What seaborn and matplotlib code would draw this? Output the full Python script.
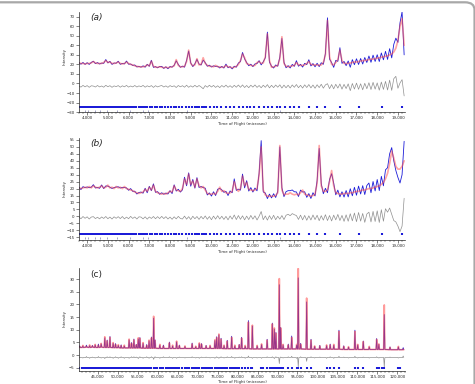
import numpy as np
import pandas as pd
import seaborn as sns
import matplotlib
matplotlib.use("Agg")
import matplotlib.pyplot as plt
from matplotlib.patches import FancyBboxPatch
from matplotlib.ticker import MultipleLocator, StrMethodFormatter

# ---- panels (a) and (b): 100 microsec grid ----
tof_ab = np.arange(3600, 19301, 100)

a_calc = [
    21.5, 21, 21, 20.5, 21, 21, 21.5, 23, 21.5, 21,
    21, 21, 22, 24, 22, 22.5, 21, 21, 21.5, 22.5,
    21, 20.5, 21, 22.5, 21, 20, 19.5, 18.5, 18, 17.5,
    17.5, 17.5, 18, 19.5, 18.5, 23.5, 18, 17, 17, 17.5,
    17, 16.5, 17, 16.5, 17, 17.5, 18.5, 25, 19, 17.5,
    17.5, 18, 23, 35, 21, 18.5, 19.5, 26, 19.5, 20,
    27, 21, 19, 18, 18, 17.5, 19, 17.5, 17.5, 17,
    17, 19, 17.5, 17, 16.5, 17, 18, 20, 24, 31,
    27, 21, 20, 19, 18.5, 19, 22, 23, 21, 21.5,
    28, 52, 24, 17, 17.5, 18, 19, 26, 49, 21,
    18, 17.5, 18, 18.5, 19, 22, 19.5, 19, 19, 19.5,
    21, 23, 20, 19.5, 19.5, 19.5, 19, 19.5, 22, 30,
    66, 28, 20, 19.5, 22, 25, 35, 24, 21, 21,
    21, 21.5, 22, 22.5, 22.5, 23, 23.5, 24, 24, 24.5,
    25, 25.5, 25.5, 26, 26.5, 27, 27.5, 28, 28.5, 29,
    30, 31, 33, 37, 45, 60, 68, 40,
]
a_resid = [
    0.5, -0.8, 1.0, -0.5, 0.8, -1.0, 0.6, 0.3, -0.7, 0.9,
    -0.6, 0.4, -0.9, 1.1, -0.4, 0.7, -1.0, 0.5, -0.3, 0.8,
    -0.9, 0.6, -0.5, 1.0, -0.8, 0.4, -0.6, 0.9, -0.7, 0.5,
    -0.4, 1.0, -0.9, 0.6, -0.5, 0.8, -1.1, 0.7, -0.6, 0.3,
    0.9, -0.7, 0.5, -1.0, 0.8, -0.4, 0.6, -1.2, 0.9, -0.5,
    0.7, -0.9, 1.2, -1.0, 0.6, -0.8, 1.1, -0.7, 0.9, -0.6,
    -2.5, 0.8, -0.9, 1.2, -0.7, 1.0, -1.1, 0.6, -1.3, 0.9,
    -0.8, 1.3, -1.0, 0.7, -1.2, 1.1, -0.9, 1.4, -1.0, 1.5,
    -1.2, 0.9, -1.4, 1.2, -0.8, 1.5, -1.1, 0.9, -1.5, 1.2,
    -1.0, 1.8, -1.6, 1.1, -1.3, 1.4, -0.9, 1.6, -1.8, 1.3,
    -1.5, 1.2, -1.7, 1.5, -1.0, 1.9, -1.4, 1.1, -1.8, 1.6,
    -1.2, 1.9, -1.6, 1.4, -2.0, 1.7, -1.3, 2.2, -1.9, 1.5,
    2.8, -2.4, 1.9, -2.6, 2.2, -1.8, 2.5, -2.9, 2.1, -2.3,
    2.6, -4.5, 3.0, -2.8, 3.4, -3.1, 2.7, -3.6, 3.2, -2.5,
    3.8, -3.3, 4.2, -2.9, 3.6, -4.0, 4.5, -3.2, 5.2, -3.8,
    6.5, -4.2, 8.0, 10.5, -2.0, 3.5, 7.0, -10.0,
]

b_calc = [
    20.5, 20, 20.5, 21, 20.5, 21.5, 20.5, 22, 21, 20.5,
    21, 22, 20.5, 21, 22.5, 20.5, 21, 20, 21.5, 20.5,
    21, 20, 21.5, 20, 19.5, 19, 18.5, 17.5, 17, 16.5,
    17, 17.5, 19.5, 18, 21, 19, 22.5, 18, 17, 16.5,
    16, 16.5, 16, 17, 18, 17.5, 22, 19, 18.5, 18,
    20, 27, 23, 30.5, 23, 25.5, 21, 27, 22, 20.5,
    21.5, 19, 16.5, 16, 16, 16.5, 16, 18, 21, 18,
    18.5, 17, 16.5, 17, 18, 25, 20, 18, 20, 29,
    22, 24.5, 19.5, 19, 18.5, 19, 20, 30, 50, 19,
    15.5, 14.5, 14.5, 14.5, 14.5, 15, 17, 51, 19, 15.5,
    16, 16, 17, 16, 15.5, 16, 15.5, 17, 19, 16,
    15.5, 15, 14.5, 15, 16, 24, 51, 22, 18, 18,
    19, 25, 33, 22, 17, 16.5, 16, 16, 16.5, 16.5,
    16.5, 17, 17, 17.5, 18, 18, 18.5, 19, 19, 19.5,
    20, 20, 20.5, 21, 21.5, 22, 23, 24.5, 27, 31,
    38, 47, 42, 36, 34, 34, 36, 40,
]
b_resid = [
    0.6, -0.7, 0.9, -0.4, 0.7, -0.9, 0.5, 0.8, -0.6, 0.4,
    -0.8, 0.6, -0.5, 0.9, -0.7, 0.5, -0.9, 0.7, -0.4, 0.8,
    -0.6, 0.9, -0.8, 0.5, -0.7, 1.0, -0.5, 0.6, -0.9, 0.7,
    0.5, -0.8, 0.7, -1.0, 0.6, -0.5, 0.9, -0.7, 0.8, -0.6,
    1.0, -0.6, 0.8, -0.9, 0.5, -1.1, 0.7, -0.8, 1.0, -0.5,
    -0.9, 1.2, -1.0, 0.8, -1.3, 1.1, -0.7, 0.9, -1.2, 1.0,
    -0.8, 1.3, -1.1, 0.9, -1.4, 1.2, -1.0, 1.5, -0.9, 1.1,
    -1.2, 1.0, -1.5, 1.3, -1.0, 2.0, -1.3, 1.6, -1.1, 1.4,
    -1.5, 1.2, -1.3, 1.7, -1.0, 1.4, -1.6, 1.1, 4.5, -1.4,
    1.3, -1.7, 1.5, -1.2, 1.8, -1.4, 1.1, -1.0, 1.6, -1.3,
    1.8, 2.5, 1.5, 3.0, 2.2, 1.6, -1.2, 1.9, -1.5, 1.7,
    -1.8, 1.4, -1.6, 2.0, -1.3, 1.8, -2.1, 1.5, -1.7, 2.2,
    -2.0, 1.6, -2.3, 1.9, -1.5, 2.4, -2.0, 1.7, -2.6, 2.1,
    -2.5, 2.9, -2.2, 3.4, -2.8, 3.8, -2.4, 3.1, -3.3, 2.7,
    4.0, -3.0, 4.6, -2.7, 5.0, -3.4, 5.8, -2.5, 6.5, 4.0,
    7.0, 2.5, -2.0, -3.0, -6.0, -10.0, -6.0, 14.0,
]

# reflection markers shared by (a) and (b)
ab_reflections = [
    3650, 3720, 3800, 3870, 3950, 4030, 4100, 4180, 4260, 4330,
    4420, 4500, 4580, 4650, 4740, 4820, 4900, 4990, 5070, 5150,
    5240, 5330, 5420, 5500, 5600, 5690, 5780, 5880, 5970, 6070,
    6170, 6270, 6370, 6480, 6580, 6690, 6800, 6910, 7030, 7140,
    7260, 7380, 7500, 7630, 7760, 7890, 8030, 8170, 8310, 8450,
    8600, 8760, 8900, 9060, 9220, 9300, 9390, 9560, 9620, 9740,
    9920, 10100, 10290, 10480, 10680, 10890, 11070, 11310, 11520, 11710,
    11870, 12070, 12280, 12520, 12710, 12920, 13160, 13320, 13570, 13770,
    13970, 14210, 14690, 15100, 15500, 16220, 17110, 18240, 19200,
]
ab_reflections_2 = [3900, 4050, 4390, 4630, 4970, 5450, 6080, 6700, 6950, 8840, 13300]

# ---- panel (c): peaks over a slowly varying background ----
c_peak_tof = [
    40400, 41200, 42100, 42900, 43600, 44300, 45100, 45800, 46700, 47300,
    48000, 48800, 49400, 50100, 50800, 51600, 52800, 53400, 54000, 54600,
    55100, 55500, 56300, 57200, 57800, 58400, 58950, 59300, 60500, 61400,
    62900, 63700, 64700, 65400, 66800, 68600, 69500, 70400, 70950, 72100,
    73100, 74300, 74750, 75300, 75850, 76600, 77400, 78500, 79300, 80400,
    81000, 81900, 82700, 83700, 84900, 86000, 87400, 88700, 89200, 89600,
    90450, 90800, 91400, 92700, 93550, 94800, 95200, 95800, 97300, 98400,
    99300, 100600, 102300, 103200, 104100, 105400, 106600, 107800, 109400, 110100,
    111500, 113000, 114850, 115400, 116760, 118200, 120300, 121500,
]
c_peak_base = [
    3.0, 3.0, 3.1, 3.0, 3.1, 3.0, 3.0, 3.1, 3.0, 3.0,
    3.0, 2.9, 2.9, 2.9, 2.8, 2.8, 2.8, 2.8, 2.8, 2.8,
    2.8, 2.8, 2.7, 2.7, 2.7, 2.7, 2.7, 2.7, 2.6, 2.6,
    2.6, 2.6, 2.6, 2.6, 2.6, 2.6, 2.6, 2.6, 2.6, 2.6,
    2.6, 2.6, 2.6, 2.6, 2.6, 2.5, 2.5, 2.5, 2.5, 2.5,
    2.5, 2.5, 2.5, 2.4, 2.4, 2.4, 2.4, 2.4, 2.4, 2.4,
    2.4, 2.4, 2.4, 2.4, 2.4, 2.4, 2.4, 2.4, 2.3, 2.3,
    2.3, 2.3, 2.3, 2.3, 2.3, 2.3, 2.2, 2.2, 2.2, 2.2,
    2.2, 2.2, 2.2, 2.2, 2.2, 2.1, 2.1, 2.1,
]
c_peak_calc = [
    3.4, 3.8, 3.5, 4.0, 3.6, 4.2, 3.9, 4.6, 7.2, 5.6,
    7.0, 4.9, 4.2, 4.1, 3.7, 3.9, 6.3, 4.6, 6.0, 4.0,
    6.8, 6.6, 4.9, 3.8, 5.9, 6.8, 15.3, 5.7, 4.2, 3.6,
    4.8, 3.9, 5.5, 3.7, 3.6, 4.4, 3.5, 4.8, 4.3, 3.6,
    3.8, 6.0, 6.9, 8.3, 6.3, 3.9, 5.5, 7.0, 3.9, 4.0,
    6.7, 3.8, 13.0, 11.8, 3.8, 4.4, 5.9, 12.3, 10.7, 8.6,
    30.2, 10.7, 4.2, 4.0, 7.0, 4.2, 34.2, 4.3, 22.5, 5.9,
    3.6, 3.6, 4.0, 4.0, 4.2, 9.3, 3.4, 3.3, 9.3, 4.2,
    5.3, 3.4, 6.2, 4.4, 19.8, 3.0, 3.4, 2.3,
]
c_peak_obs = [
    3.6, 3.6, 3.9, 3.7, 3.8, 4.0, 4.3, 4.4, 6.8, 5.9,
    7.3, 4.6, 4.5, 3.8, 4.0, 3.6, 6.0, 4.9, 6.3, 4.2,
    6.4, 6.9, 4.6, 4.1, 5.6, 7.1, 14.6, 6.0, 3.9, 3.9,
    5.1, 3.6, 5.2, 3.9, 3.4, 4.7, 3.3, 4.5, 4.5, 3.8,
    3.6, 5.7, 7.2, 8.0, 6.6, 3.7, 5.8, 7.4, 3.6, 4.2,
    7.0, 3.5, 13.6, 11.5, 3.6, 4.1, 6.2, 12.6, 10.3, 8.9,
    27.8, 10.9, 4.0, 4.3, 7.5, 3.9, 30.5, 4.6, 21.0, 6.2,
    3.4, 3.8, 3.7, 4.3, 3.9, 9.8, 3.6, 3.1, 9.8, 4.0,
    5.5, 3.2, 6.5, 4.2, 16.0, 3.2, 3.2, 2.9,
]
c_reflections = [
    40300, 40900, 41200, 41700, 42100, 42600, 42900, 43300, 43600, 44000,
    44300, 44800, 45100, 45500, 45800, 46300, 46700, 47000, 47300, 47700,
    48000, 48400, 48800, 49100, 49400, 49800, 50100, 50500, 50800, 51200,
    51600, 52000, 52400, 52800, 53100, 53400, 53700, 54000, 54300, 54600,
    55100, 55500, 55900, 56300, 56800, 57200, 57500, 57800, 58100, 58400,
    58950, 59300, 59800, 60500, 60900, 61400, 62000, 62500, 62900, 63300,
    63700, 64200, 64700, 65000, 65400, 66000, 66800, 67300, 67900, 68600,
    69000, 69500, 70000, 70400, 70950, 71500, 72100, 72600, 73100, 73700,
    74300, 74750, 75300, 75850, 76200, 76600, 77000, 77400, 78000, 78500,
    78900, 79300, 79800, 80400, 81000, 81900, 82700, 83300, 83700, 85900,
    86300, 87400, 88200, 88700, 89200, 89600, 90000, 90450, 90800, 91400,
    92700, 93550, 94800, 95200, 95800, 97300, 98400, 102300, 103200, 104100,
    105400, 109400, 110100, 111500, 114850, 115400, 116200, 116760, 120300, 120800,
]

BLUE = "#1c1cd8"
RED = "#ff4a4a"
GRAY = "#8f8f8f"
FS = 2.8

sns.set_style("ticks")
plt.rcParams["font.family"] = ["DejaVu Sans"]


def style_axis(ax, xlim, ylim, xstep, ystep, xminor, letter, italic, ylab_y):
    ax.set_xlim(*xlim)
    ax.set_ylim(*ylim)
    ax.xaxis.set_major_locator(MultipleLocator(xstep))
    ax.yaxis.set_major_locator(MultipleLocator(ystep))
    ax.xaxis.set_minor_locator(MultipleLocator(xminor))
    ax.xaxis.set_major_formatter(StrMethodFormatter("{x:,.0f}"))
    ax.tick_params(labelsize=FS, length=2, width=0.4, pad=1)
    ax.tick_params(which="minor", length=1.1, width=0.3)
    sns.despine(ax=ax)
    for side in ("left", "bottom"):
        ax.spines[side].set_linewidth(0.5)
    ax.set_xlabel("Time of Flight (microsec)", fontsize=FS, labelpad=1)
    ax.set_ylabel("Intensity", fontsize=FS)
    ax.yaxis.set_label_coords(-0.037, ylab_y)
    ax.text(0.035, 0.985, letter, transform=ax.transAxes, fontsize=6.5,
            style="italic" if italic else "normal", va="top", ha="left")


def profile_panel(ax, calc, resid, offset, refl_y, refl2_y):
    calc = np.asarray(calc, dtype=float)
    obs = calc + np.asarray(resid, dtype=float)
    df = pd.DataFrame({"tof": tof_ab, "obs": obs, "calc": calc,
                       "diff": obs - calc + offset})
    sns.lineplot(data=df, x="tof", y="obs", ax=ax, color=BLUE, lw=0.6,
                 estimator=None)
    sns.lineplot(data=df, x="tof", y="calc", ax=ax, color=RED, lw=1.2,
                 alpha=0.5, estimator=None)
    sns.lineplot(data=df, x="tof", y="diff", ax=ax, color=GRAY, lw=0.5,
                 estimator=None)
    ax.plot(ab_reflections, [refl_y] * len(ab_reflections), ls="none",
            marker="|", ms=1.9, mew=1.5, color=BLUE)
    ax.plot(ab_reflections_2, [refl2_y] * len(ab_reflections_2), ls="none",
            marker="|", ms=1.4, mew=0.5, color="#7d7db0")


def spikes(pos, base, top, half=150):
    xs, ys = [], []
    for p, b, t in zip(pos, base, top):
        xs += [p - half, p, p + half]
        ys += [b, t, b]
    return xs, ys


fig = plt.figure(figsize=(4.75, 3.84), dpi=100)

ax_a = fig.add_axes([0.166, 0.708, 0.687, 0.261])
profile_panel(ax_a, a_calc, a_resid, -3, -25, -28.3)
style_axis(ax_a, (3600, 19350), (-30, 75), 1000, 10, 200, "(a)", True, 0.55)

ax_b = fig.add_axes([0.166, 0.375, 0.687, 0.266])
profile_panel(ax_b, b_calc, b_resid, -1, -12.5, -15.3)
style_axis(ax_b, (3600, 19350), (-17, 56.5), 1000, 5, 200, "(b)", True, 0.5)

ax_c = fig.add_axes([0.166, 0.034, 0.687, 0.268])
cx, c_calc_y = spikes(c_peak_tof, c_peak_base, c_peak_calc)
_, c_obs_y = spikes(c_peak_tof, c_peak_base, c_peak_obs)
c_diff = [c_peak_obs[i] - c_peak_calc[i] for i in range(len(c_peak_tof))]
_, c_diff_y = spikes(c_peak_tof, [-1] * len(c_diff), [d - 1 for d in c_diff])
df_c = pd.DataFrame({"tof": cx, "obs": c_obs_y, "calc": c_calc_y, "diff": c_diff_y})
sns.lineplot(data=df_c, x="tof", y="obs", ax=ax_c, color=BLUE, lw=0.6,
             estimator=None, sort=False)
sns.lineplot(data=df_c, x="tof", y="calc", ax=ax_c, color=RED, lw=1.2,
             alpha=0.55, estimator=None, sort=False)
sns.lineplot(data=df_c, x="tof", y="diff", ax=ax_c, color=GRAY, lw=0.5,
             estimator=None, sort=False)
ax_c.plot(c_reflections, [-5.3] * len(c_reflections), ls="none",
          marker="|", ms=1.8, mew=1.5, color=BLUE)
style_axis(ax_c, (40200, 122000), (-6.3, 34.4), 5000, 5, 1000, "(c)", False, 0.51)

# rounded frame around the figure
fig.patches.append(FancyBboxPatch((-0.02, -0.05), 1.019, 1.044,
                                  boxstyle="round,pad=0,rounding_size=0.02",
                                  transform=fig.transFigure, fill=False,
                                  ec="#a8a8a8", lw=1.6))

fig.savefig("out.png", dpi=100)
